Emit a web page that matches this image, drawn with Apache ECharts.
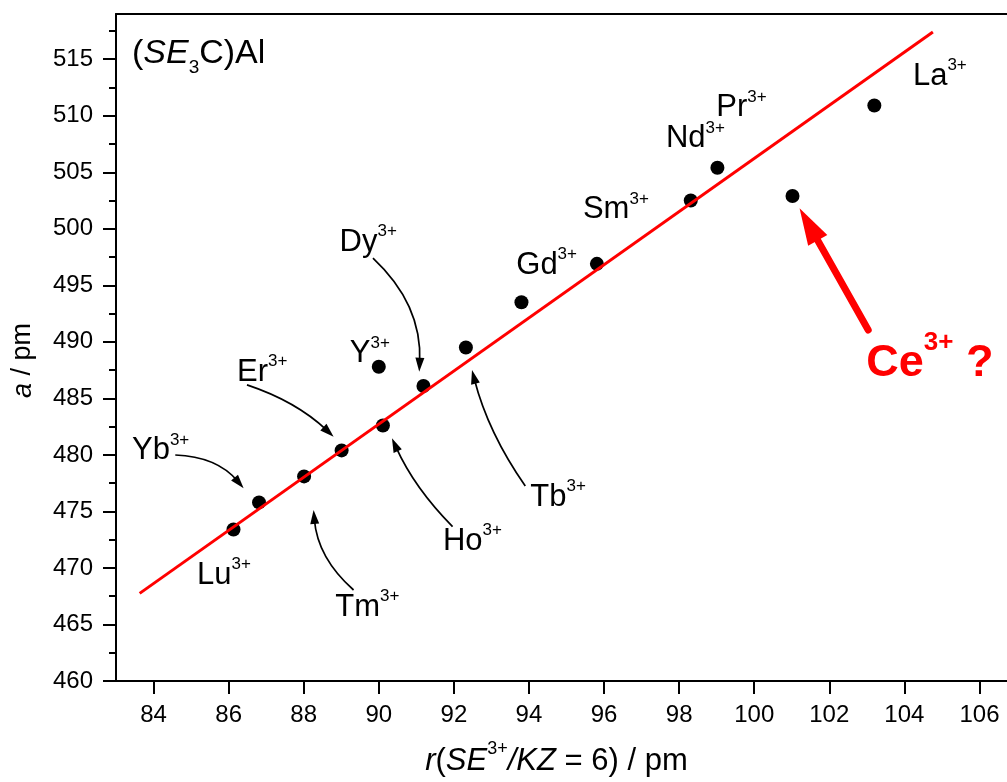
<!DOCTYPE html>
<html><head><meta charset="utf-8">
<script src="https://cdn.jsdelivr.net/npm/echarts@6/dist/echarts.min.js"></script>
<style>html,body{margin:0;padding:0;background:#fff}#c{width:1007px;height:782px}</style>
</head><body><div id="c"></div>
<script>
// ---- data ----
const elements = ['Lu','Yb','Tm','Er','Ho','Y','Dy','Tb','Gd','Sm','Nd','Pr','Ce','La'];
const radius   = [86.13, 86.81, 88.01, 89.01, 90.11, 90.00, 91.19, 92.32, 93.80, 95.81, 98.31, 99.02, 101.02, 103.20];
const latticeA = [473.4, 475.8, 478.1, 480.4, 482.6, 487.8, 486.1, 489.5, 493.5, 496.9, 502.5, 505.4, 502.9, 510.9];
const fitX = [83.63, 104.76];
const fitY = [467.75, 517.41];
const xTicks = [84, 86, 88, 90, 92, 94, 96, 98, 100, 102, 104, 106];
const yTicks = [460, 465, 470, 475, 480, 485, 490, 495, 500, 505, 510, 515];
const yMinorTicks = [462.5, 467.5, 472.5, 477.5, 482.5, 487.5, 492.5, 497.5, 502.5, 507.5, 512.5, 517.5];
// annotation text anchors (left edge, middle), in data units
const labelNames = ['Lu','Yb','Tm','Er','Ho','Y','Dy','Tb','Gd','Sm','Nd','Pr','La'];
const labelX = [85.157, 83.426, 88.841, 86.223, 91.709, 89.227, 88.955, 94.035, 93.662, 95.438, 97.649, 98.989, 104.228];
const labelY = [469.38, 480.35, 466.50, 487.29, 472.36, 488.93, 498.80, 476.23, 496.80, 501.67, 507.95, 510.69, 513.46];
const ceLabel = [102.984, 488.11];
const titlePos = [83.426, 515.50];
// arrows: from, to, curveness, red flag
const arrowFrom = [[84.579,479.99],[86.489,486.19],[89.328,468.05],[91.965,473.65],[93.902,477.25],[89.845,497.40],[103.037,491.05]];
const arrowTo   = [[86.399,477.05],[88.796,481.61],[88.263,475.13],[90.351,481.47],[92.482,487.51],[91.078,487.36],[101.208,501.82]];
const arrowCurve = [0.22, 0.11, 0.20, 0.09, 0.09, 0.23, 0];
const arrowRed   = [0, 0, 0, 0, 0, 0, 1];

const FONT = '"Liberation Sans", Arial, sans-serif';
const chart = echarts.init(document.getElementById('c'), null, {renderer: 'canvas'});

const supRich = {
  m: {fontSize: 31, fontFamily: FONT, color: '#000', lineHeight: 39},
  s: {fontSize: 17, fontFamily: FONT, color: '#000', lineHeight: 17, verticalAlign: 'top'}
};

function renderArrow(params, api) {
  const p1 = api.coord([api.value(0), api.value(1)]);
  const p2 = api.coord([api.value(2), api.value(3)]);
  const c = api.value(4);
  const red = api.value(5) === 1;
  const color = red ? '#ff0000' : '#000';
  const cp = [(p1[0]+p2[0])/2 - (p1[1]-p2[1])*c, (p1[1]+p2[1])/2 - (p2[0]-p1[0])*c];
  let dx = p2[0]-cp[0], dy = p2[1]-cp[1];
  const len = Math.hypot(dx, dy); dx /= len; dy /= len;
  const L = red ? 37 : 14, W = red ? 22 : 9;
  const base = [p2[0]-dx*L, p2[1]-dy*L];
  const end = [p2[0]-dx*L*0.7, p2[1]-dy*L*0.7];
  return {type: 'group', children: [
    {type: 'bezierCurve', shape: {x1: p1[0], y1: p1[1], x2: end[0], y2: end[1], cpx1: cp[0], cpy1: cp[1]},
     style: {stroke: color, lineWidth: red ? 7 : 1.7, fill: 'none', lineCap: red ? 'round' : 'butt'}},
    {type: 'polygon', shape: {points: [[p2[0], p2[1]], [base[0]-dy*W/2, base[1]+dx*W/2], [base[0]+dy*W/2, base[1]-dx*W/2]]},
     style: {fill: color}}
  ]};
}

const labelData = labelNames.map((n, i) => ({
  value: [labelX[i], labelY[i]],
  label: {formatter: '{m|' + n + '}{s|3+}', rich: supRich}
}));
labelData.push({
  value: ceLabel,
  label: {formatter: '{m|Ce}{s|3+}{m| ?}', rich: {
    m: {fontSize: 45, fontWeight: 'bold', fontFamily: FONT, color: '#ff0000', lineHeight: 66},
    s: {fontSize: 26, fontWeight: 'bold', fontFamily: FONT, color: '#ff0000', lineHeight: 24, verticalAlign: 'top'}
  }}
});
labelData.push({
  value: titlePos,
  label: {formatter: '{m|(}{i|SE}{b|3}{m|C)Al}', rich: {
    m: {fontSize: 34, fontFamily: FONT, color: '#000', lineHeight: 48},
    i: {fontSize: 34, fontFamily: FONT, fontStyle: 'italic', color: '#000', lineHeight: 48},
    b: {fontSize: 19, fontFamily: FONT, color: '#000', lineHeight: 19, verticalAlign: 'bottom'}
  }}
});

const axisLineStyle = {color: '#000', width: 2};
const option = {
  animation: false,
  backgroundColor: '#fff',
  grid: {left: 116, top: 14, width: 901, height: 667, show: false, outerBoundsMode: 'none', containLabel: false},
  xAxis: [{
    type: 'value', min: 83, max: 107,
    axisLine: {lineStyle: axisLineStyle},
    axisTick: {customValues: xTicks, length: 13, inside: false, lineStyle: axisLineStyle},
    axisLabel: {customValues: xTicks, fontSize: 24, fontFamily: FONT, color: '#000', margin: 22},
    splitLine: {show: false},
    name: '{i|r}{m|(}{i|SE}{s|3+}{i|/KZ}{m| = 6) / pm}',
    nameLocation: 'middle', nameGap: 59,
    nameTextStyle: {padding: [0, 20, 0, 0], rich: {
      m: {fontSize: 31, fontFamily: FONT, color: '#000', lineHeight: 42},
      i: {fontSize: 31, fontFamily: FONT, fontStyle: 'italic', color: '#000', lineHeight: 42},
      s: {fontSize: 18, fontFamily: FONT, color: '#000', lineHeight: 18, verticalAlign: 'top'}
    }}
  }, {
    type: 'value', min: 83, max: 107, position: 'top',
    axisLine: {show: true, lineStyle: axisLineStyle},
    axisTick: {show: false}, axisLabel: {show: false}, splitLine: {show: false}
  }],
  yAxis: [{
    type: 'value', min: 460, max: 519,
    axisLine: {lineStyle: axisLineStyle},
    axisTick: {customValues: yTicks, length: 13, lineStyle: axisLineStyle},
    axisLabel: {customValues: yTicks, fontSize: 24, fontFamily: FONT, color: '#000', margin: 23},
    splitLine: {show: false},
    name: '{i|a}{m| / pm}',
    nameLocation: 'middle', nameGap: 78,
    nameTextStyle: {padding: [0, 26, 0, 0], rich: {
      m: {fontSize: 27, fontFamily: FONT, color: '#000', lineHeight: 30},
      i: {fontSize: 27, fontFamily: FONT, fontStyle: 'italic', color: '#000', lineHeight: 30}
    }}
  }, {
    type: 'value', min: 460, max: 519, position: 'left', offset: 0,
    axisLine: {show: false},
    axisTick: {show: true, customValues: yMinorTicks, length: 7, lineStyle: axisLineStyle},
    axisLabel: {show: false},
    splitLine: {show: false}
  }],
  series: [
    {type: 'scatter', data: radius.map((x, i) => [x, latticeA[i]]), symbol: 'circle', symbolSize: 14,
     itemStyle: {color: '#000', opacity: 1}, z: 3},
    {type: 'line', data: fitX.map((x, i) => [x, fitY[i]]), showSymbol: false, symbol: 'none',
     lineStyle: {color: '#ff0000', width: 3, opacity: 1}, z: 4},
    {type: 'custom', renderItem: renderArrow, clip: false, z: 5,
     encode: {x: [0, 2], y: [1, 3]},
     data: arrowFrom.map((f, i) => [f[0], f[1], arrowTo[i][0], arrowTo[i][1], arrowCurve[i], arrowRed[i]])},
    {type: 'scatter', data: labelData, symbolSize: 0, itemStyle: {color: 'transparent', opacity: 1}, z: 6, silent: true,
     label: {show: true, position: [0, 0], align: 'left', verticalAlign: 'middle', opacity: 1}}
  ]
};
chart.setOption(option);
</script></body></html>
